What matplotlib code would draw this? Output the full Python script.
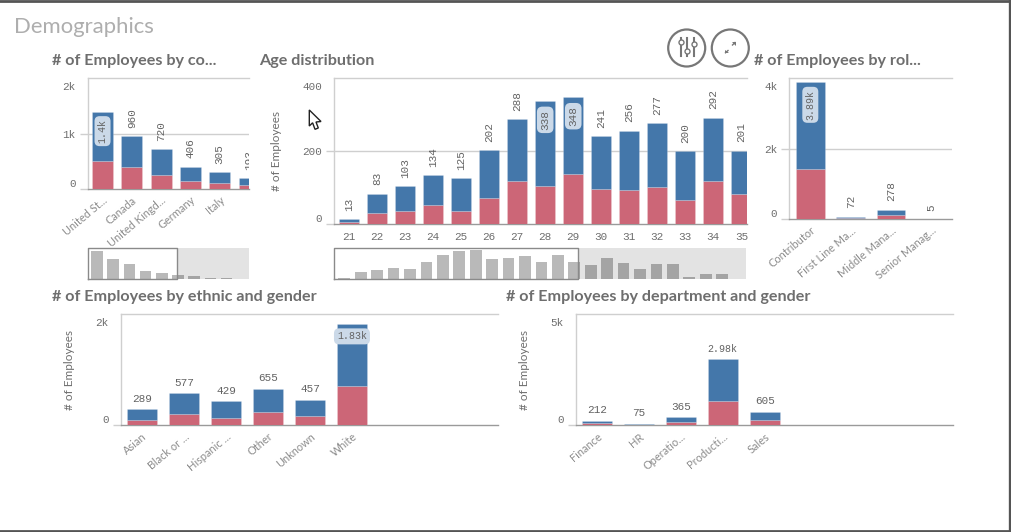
import matplotlib
matplotlib.use('Agg')
import matplotlib.pyplot as plt
from matplotlib.patches import Circle, Polygon
from matplotlib.transforms import ScaledTranslation

W, H = 1011, 532
BLUE = '#4477aa'
RED = '#cc6677'
GRID = '#cfcfcf'
BASE = '#9a9a9a'
TXT = '#6e6e6e'
LBL = '#636363'
MONO = 'Liberation Mono'
SANS = 'Lato'

# country
country_names = ['United St...', 'Canada', 'United Kingd...', 'Germany', 'Italy', '']
country_total = [1400, 960, 720, 406, 305, 193]
country_red = [510, 400, 255, 150, 115, 70]
country_mini = [1400, 960, 720, 406, 305, 193, 130, 70, 50, 16]

# age
age_names = ['21', '22', '23', '24', '25', '26', '27', '28', '29', '30', '31', '32', '33', '34', '35']
age_total = [13, 83, 103, 134, 125, 202, 288, 338, 348, 241, 256, 277, 200, 292, 201]
age_red = [5, 31, 35, 52, 37, 72, 117, 105, 137, 95, 94, 101, 67, 118, 81]
age_mini = [13, 83, 103, 134, 125, 202, 288, 338, 348, 241, 256, 277, 200, 292, 201,
            162, 249, 190, 119, 178, 178, 28, 55, 55, 4]

# role
role_names = ['Contributor', 'First Line Ma...', 'Middle Mana...', 'Senior Manag...']
role_total = [3890, 72, 278, 5]
role_red = [1438, 35, 114, 2]

# ethnic
ethnic_names = ['Asian', 'Black or ...', 'Hispanic ...', 'Other', 'Unknown', 'White']
ethnic_total = [289, 577, 429, 655, 457, 1830]
ethnic_red = [102, 210, 138, 240, 168, 709]

# department
dept_names = ['Finance', 'HR', 'Operatio...', 'Producti...', 'Sales']
dept_total = [212, 75, 365, 2980, 605]
dept_red = [90, 30, 150, 1111, 225]


def px_axes(fig, left, top, right, bottom):
    return fig.add_axes([left / W, 1 - bottom / H, (right - left) / W, (bottom - top) / H])


def fmt(v):
    if v >= 1000:
        return f'{v / 1000:.3g}k'
    return str(v)


def stacked(fig, box, xlim, ymax, ticklabs, names, total, red, inside, vertical, slanted, ylabel_x=None):
    ax = px_axes(fig, *box)
    x = list(range(len(names)))
    blue = [t - r for t, r in zip(total, red)]
    ax.bar(x, red, width=0.71, color=RED, edgecolor=(1, 1, 1, 0.2), linewidth=0.6, zorder=3)
    ax.bar(x, blue, bottom=red, width=0.71, color=BLUE, edgecolor=(1, 1, 1, 0.2), linewidth=0.6, zorder=3)
    ax.set_xlim(*xlim)
    ax.set_ylim(0, ymax)
    ax.patch.set_alpha(0)

    ax.spines['right'].set_visible(False)
    for s in ['left', 'top']:
        ax.spines[s].set_color(GRID)
        ax.spines[s].set_linewidth(1)
    ax.spines['bottom'].set_color(BASE)
    ax.spines['bottom'].set_linewidth(1)

    if len(ticklabs) == 3:
        ax.axhline(ymax / 2, color=GRID, lw=1, zorder=1)

    # value labels
    rot = 90 if vertical else 0
    for i, t in enumerate(total):
        size = 7.2 if t >= 1000 else 7.9
        if i in inside:
            off = -5.5 if t >= 1000 else -6.5
            ax.annotate(fmt(t), (i, t), xytext=(0, off), textcoords='offset points', rotation=rot,
                        ha='center', va='top', fontsize=size, family=MONO, color=LBL, zorder=5,
                        clip_on=True,
                        bbox=dict(boxstyle='round,pad=0.3,rounding_size=0.5', fc='#cbd9e8', ec='none'))
        else:
            ax.annotate(fmt(t), (i, t), xytext=(0, 6 if vertical else 4), textcoords='offset points',
                        rotation=rot, ha='center', va='bottom', fontsize=size, family=MONO, color=LBL,
                        zorder=5, clip_on=True)

    # y axis
    ticks = [0, ymax / 2, ymax] if len(ticklabs) == 3 else [0, ymax]
    ax.set_yticks(ticks)
    ax.set_yticklabels(ticklabs, family=MONO, fontsize=7.9, color=TXT)
    ax.tick_params(axis='y', length=5.5, width=1, color=GRID, pad=3)
    labs = ax.get_yticklabels()
    labs[0].set_va('bottom')
    labs[-1].set_va('top')
    labs[-1].set_transform(labs[-1].get_transform() + ScaledTranslation(0, -3 / 72, fig.dpi_scale_trans))
    ax.yaxis.get_major_ticks()[0].tick1line.set_color(BASE)
    ax.yaxis.get_major_ticks()[-1].tick1line.set_visible(False)

    # x axis
    ax.set_xticks(x)
    if slanted:
        ax.set_xticklabels(names, rotation=40, ha='right', va='top', rotation_mode='anchor',
                           family=SANS, fontsize=7.9, color='#8c8c8c')
        ax.tick_params(axis='x', length=0, pad=4)
    else:
        ax.set_xticklabels(names, family=MONO, fontsize=7.9, color=TXT)
        ax.tick_params(axis='x', length=0, pad=6)

    if ylabel_x is not None:
        fig.text(ylabel_x / W, 1 - (box[1] + box[3]) / 2 / H, '# of Employees', rotation=90,
                 ha='center', va='center', family=SANS, fontsize=8.5, color=TXT)
    return ax


def mini(fig, box, xlim, ymax, vals, sel_end):
    ax = px_axes(fig, *box)
    ax.bar(range(len(vals)), vals, width=0.71, color='#b9b9b9', zorder=2)
    ax.set_xlim(*xlim)
    ax.set_ylim(0, ymax)
    ax.axis('off')
    ax.axvspan(sel_end, xlim[1], color='#000000', alpha=0.11, lw=0, zorder=3)
    ax.plot([xlim[0], sel_end, sel_end, xlim[0], xlim[0]], [0, 0, ymax, ymax, 0],
            color='#8a8a8a', lw=1, zorder=4, clip_on=False)
    return ax


fig = plt.figure(figsize=(W / 100, H / 100), dpi=100, facecolor='white')

stacked(fig, (87.5, 78.3, 249, 189), (-0.513, 4.92), 2000, ['0', '1k', '2k'],
        country_names, country_total, country_red, [0], True, True)
mini(fig, (87.5, 248.3, 249, 279), (-0.586, 9.38), 1510, country_mini, 4.96)

stacked(fig, (334.3, 78.3, 747, 224), (20.475 - 21, 35.2 - 21), 400, ['0', '200', '400'],
        age_names, age_total, age_red, [7, 8], True, False, ylabel_x=276)
mini(fig, (334.3, 248.3, 746, 279), (-0.61, 24.45), 368, age_mini, 14.2)

stacked(fig, (789.3, 78.3, 951.7, 219.3), (-0.52, 3.5), 4000, ['0', '2k', '4k'],
        role_names, role_total, role_red, [0], True, True)

stacked(fig, (120.7, 314.3, 497.7, 425.3), (-0.507, 8.47), 2000, ['0', '2k'],
        ethnic_names, ethnic_total, ethnic_red, [5], False, True, ylabel_x=69.5)

stacked(fig, (575.7, 314.3, 952.7, 425.3), (-0.5, 8.47), 5000, ['0', '5k'],
        dept_names, dept_total, dept_red, [], False, True, ylabel_x=524)

# page furniture in pixel coordinates
top = fig.add_axes([0, 0, 1, 1], zorder=10)
top.set_xlim(0, W)
top.set_ylim(H, 0)
top.axis('off')

top.plot([0, W], [1, 1], color='#555555', lw=2)
top.plot([1010, 1010], [0, H], color='#555555', lw=2.4)
top.plot([0, W], [531, 531], color='#555555', lw=2)

top.text(14, 27, 'Demographics', family=SANS, fontsize=15.9, color='#aeaeae', va='center', ha='left')
for tx, ty, s in [(52, 60.5, '# of Employees by co...'), (259, 60.5, 'Age distribution'),
                  (754, 60.5, '# of Employees by rol...'), (52, 296.5, '# of Employees by ethnic and gender'),
                  (506, 296.5, '# of Employees by department and gender')]:
    top.text(tx, ty, s, family=SANS, weight='bold', fontsize=11.6, color=TXT, va='center', ha='left')

# buttons
for cx in [686.7, 730.3]:
    top.add_patch(Circle((cx, 48), 18.5, fc='white', ec='#777777', lw=1.6))
for lx, ky in [(680.7, 42.3), (687.3, 50.7), (693.7, 44)]:
    top.plot([lx, lx], [38.3, 55.5], color='#777777', lw=1.5)
    top.plot([lx], [ky], 'o', ms=3.6, mfc='white', mec='#777777', mew=1)
top.plot([725.5, 728], [52.8, 50.5], color='#777777', lw=1)
top.plot([732.5, 735], [45, 42.5], color='#777777', lw=1)
top.add_patch(Polygon([(725, 49.5), (725, 53.3), (728.8, 53.3)], fc='#777777', ec='none'))
top.add_patch(Polygon([(735.5, 46), (735.5, 42), (731.5, 42)], fc='#777777', ec='none'))

# mouse pointer
top.add_patch(Polygon([(309.3, 110), (309.3, 126), (312.6, 122.8), (315, 129.3), (318.3, 128),
                       (316, 122), (321, 121.5)], closed=True, fc='white', ec='#222222', lw=1))

fig.savefig('out.png', dpi=100)
